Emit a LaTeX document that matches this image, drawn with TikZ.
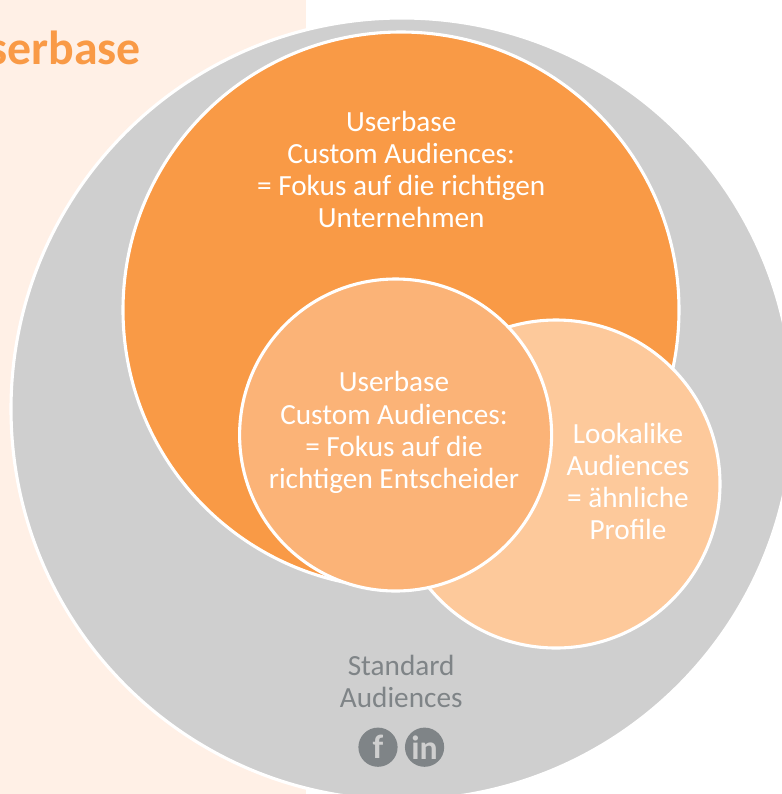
\documentclass[tikz,border=0pt]{standalone}
\usepackage{fontspec}
\setmainfont{Carlito}
\usepackage{xcolor}
\usetikzlibrary{positioning}
\definecolor{paneltint}{HTML}{FFF0E6}
\definecolor{ringgrey}{HTML}{CFCFCF}
\definecolor{accorange}{HTML}{F99A46}
\definecolor{midorange}{HTML}{FBB377}
\definecolor{lightorange}{HTML}{FDC99B}
\definecolor{textgrey}{HTML}{7F8487}
\tikzset{
  disc/.style={draw=white, line width=2.2pt},
  whitelabel/.style={white, align=center, font=\fontsize{20.8}{22.8}\selectfont},
  greylabel/.style={textgrey, align=center, font=\fontsize{20.8}{22.8}\selectfont},
  socialicon/.style={circle, fill=textgrey, text=ringgrey, inner sep=0pt, minimum size=0.98cm, font=\fontsize{24}{24}\selectfont\bfseries}
}

\begin{document}
\begin{tikzpicture}
  \useasboundingbox (0,0) rectangle (19.55,-19.85);

  % Background panel
  \fill[paneltint] (0,0) rectangle (7.65,-19.85);
  \node[accorange, anchor=base east, font=\fontsize{34}{34}\selectfont\bfseries] (title) at (3.65,-1.6) {Userbase};

  % Circles
  \draw[disc, fill=ringgrey] (10.05,-10.225) circle (9.775);
  \draw[disc, fill=accorange] (10.025,-7.75) circle (6.95);
  \draw[disc, fill=lightorange] (13.9,-12.1) circle (4.1);
  \draw[disc, fill=midorange] (9.89,-10.875) circle (3.9);

  % Labels
  \node[whitelabel] (userbasefirm) at (10.03,-4.23) {Userbase\\Custom Audiences:\\= Fokus auf die richtigen\\Unternehmen};
  \node[whitelabel] (userbaseperson) at (9.85,-10.81) {Userbase\\Custom Audiences:\\= Fokus auf die\\richtigen Entscheider};
  \node[whitelabel] (lookalike) at (15.7,-12.03) {Lookalike\\Audiences\\= ähnliche\\Profile};
  \node[greylabel] (standard) at (10.03,-17.03) {Standard\\Audiences};

  % Social icons
  \node[socialicon] (facebook) at (9.45,-18.68) {f};
  \node[socialicon, right=0.17cm of facebook] (linkedin) {in};
\end{tikzpicture}
\end{document}
